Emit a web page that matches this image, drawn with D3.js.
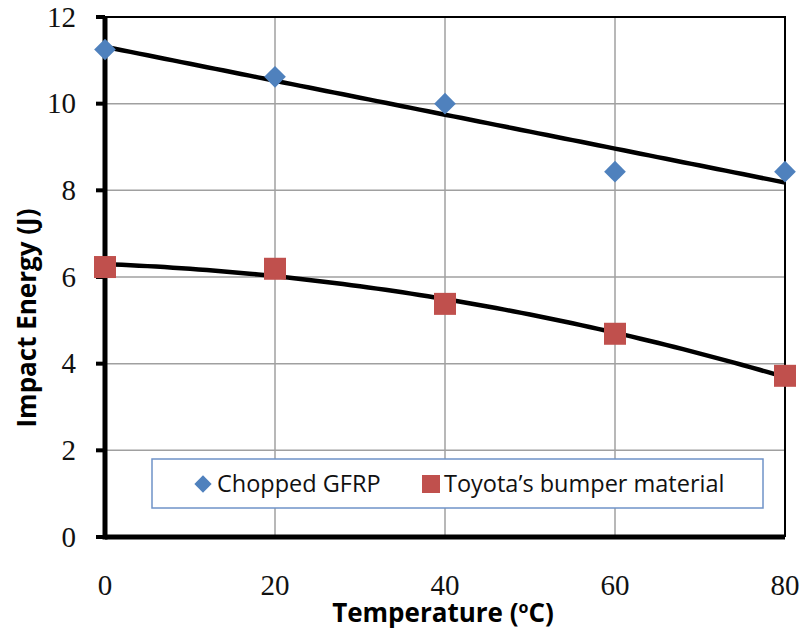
<!DOCTYPE html>
<html lang="en">
<head>
  <meta charset="UTF-8">
  <title>Impact Energy vs Temperature</title>
  <script src="https://cdn.jsdelivr.net/npm/d3@7"></script>
  <style>
    body { margin: 0; background: #fff; }
    .tick-label { font-family: "Liberation Serif", serif; font-size: 29px; fill: #111; }
    .axis-title { font-family: "Open Sans", "DejaVu Sans", sans-serif; font-weight: bold; font-size: 26px; fill: #000; }
    .legend-text { font-family: "Open Sans", "Liberation Sans", sans-serif; font-size: 23.5px; fill: #111; }
  </style>
</head>
<body>
  <div id="chart"></div>
  <script>
    // Data
    const temps = [0, 20, 40, 60, 80];
    const gfrp = [11.25, 10.62, 10.0, 8.43, 8.43];
    const toyota = [6.23, 6.19, 5.38, 4.69, 3.72];
    const yTicks = [0, 2, 4, 6, 8, 10, 12];
    const xTicks = [0, 20, 40, 60, 80];
    const seriesNames = ["Chopped GFRP", "Toyota\u2019s bumper material"];

    const W = 802, H = 630;
    const margin = { top: 17, right: 17, bottom: 93, left: 105 };
    const width = W - margin.left - margin.right;
    const height = H - margin.top - margin.bottom;

    const svg = d3.select("#chart").append("svg")
      .attr("width", W).attr("height", H);
    const g = svg.append("g")
      .attr("transform", `translate(${margin.left},${margin.top})`);

    const x = d3.scaleLinear().domain([0, 80]).range([0, width]);
    const y = d3.scaleLinear().domain([0, 12]).range([height, 0]);

    // gridlines
    g.selectAll(".hgrid").data(yTicks.slice(1)).enter().append("line")
      .attr("x1", 0).attr("x2", width)
      .attr("y1", d => y(d)).attr("y2", d => y(d))
      .attr("stroke", "#a0a0a0").attr("stroke-width", 1.5);
    g.selectAll(".vgrid").data(xTicks.slice(1)).enter().append("line")
      .attr("x1", d => x(d)).attr("x2", d => x(d))
      .attr("y1", 0).attr("y2", height)
      .attr("stroke", "#a0a0a0").attr("stroke-width", 1.5);

    // top and right border
    g.append("path")
      .attr("d", `M0,0H${width}V${height}`)
      .attr("fill", "none").attr("stroke", "#000").attr("stroke-width", 2);

    // fitted trend lines (linear and 2nd order polynomial)
    function linFit(xs, ys) {
      const mx = d3.mean(xs), my = d3.mean(ys);
      const b = d3.sum(xs, (v, i) => (v - mx) * (ys[i] - my)) / d3.sum(xs, v => (v - mx) ** 2);
      return t => my + b * (t - mx);
    }
    function quadFit(xs, ys) {
      const s = k => d3.sum(xs, v => v ** k);
      const t = k => d3.sum(xs, (v, i) => v ** k * ys[i]);
      const A = [[s(0), s(1), s(2), t(0)], [s(1), s(2), s(3), t(1)], [s(2), s(3), s(4), t(2)]];
      for (let i = 0; i < 3; i++) {
        for (let j = i + 1; j < 3; j++) {
          const f = A[j][i] / A[i][i];
          for (let k = i; k < 4; k++) A[j][k] -= f * A[i][k];
        }
      }
      const c = [0, 0, 0];
      for (let i = 2; i >= 0; i--) {
        let v = A[i][3];
        for (let k = i + 1; k < 3; k++) v -= A[i][k] * c[k];
        c[i] = v / A[i][i];
      }
      return v => c[0] + c[1] * v + c[2] * v * v;
    }
    const fitA = linFit(temps, gfrp);
    const fitB = quadFit(temps, toyota);
    const fine = d3.range(0, 80.01, 1);
    const line = f => d3.line().x(d => x(d)).y(d => y(f(d)));
    g.append("path").datum(fine).attr("d", line(fitA))
      .attr("fill", "none").attr("stroke", "#000").attr("stroke-width", 4.5);
    g.append("path").datum(fine).attr("d", line(fitB))
      .attr("fill", "none").attr("stroke", "#000").attr("stroke-width", 4.5);

    // axes (thick left and bottom)
    g.append("line").attr("x1", 0).attr("x2", width)
      .attr("y1", height).attr("y2", height)
      .attr("stroke", "#000").attr("stroke-width", 5);
    g.append("line").attr("x1", 0).attr("x2", 0)
      .attr("y1", -1).attr("y2", height + 2.5)
      .attr("stroke", "#000").attr("stroke-width", 5);
    g.selectAll(".ytick").data(yTicks).enter().append("line")
      .attr("x1", -9).attr("x2", 0)
      .attr("y1", d => y(d)).attr("y2", d => y(d))
      .attr("stroke", "#000").attr("stroke-width", 4);

    g.selectAll(".ylab").data(yTicks).enter().append("text")
      .attr("class", "tick-label")
      .attr("x", -29).attr("y", d => y(d))
      .attr("dy", "0.33em").attr("text-anchor", "end")
      .text(d => d);
    g.selectAll(".xlab").data(xTicks).enter().append("text")
      .attr("class", "tick-label")
      .attr("x", d => x(d)).attr("y", height + 48)
      .attr("dy", "0.33em").attr("text-anchor", "middle")
      .text(d => d);

    // markers
    const diamond = d3.symbol().type(d3.symbolDiamond2).size(300);
    g.selectAll(".ptA").data(temps).enter().append("path")
      .attr("transform", (d, i) => `translate(${x(d)},${y(gfrp[i])})`)
      .attr("d", diamond).attr("fill", "#4f81bd");
    g.selectAll(".ptB").data(temps).enter().append("rect")
      .attr("x", d => x(d) - 11).attr("y", (d, i) => y(toyota[i]) - 11)
      .attr("width", 22).attr("height", 22).attr("fill", "#c0504d");

    // legend
    const leg = svg.append("g");
    leg.append("rect").attr("x", 152).attr("y", 459).attr("width", 611).attr("height", 49)
      .attr("fill", "#fff").attr("stroke", "#6f93c8").attr("stroke-width", 1.5);
    leg.append("path").attr("transform", "translate(203,484)")
      .attr("d", d3.symbol().type(d3.symbolDiamond2).size(190)).attr("fill", "#4f81bd");
    leg.append("text").attr("class", "legend-text").attr("x", 217).attr("y", 484)
      .attr("dy", "0.35em").text(seriesNames[0]);
    leg.append("rect").attr("x", 422).attr("y", 475).attr("width", 18).attr("height", 18)
      .attr("fill", "#c0504d");
    leg.append("text").attr("class", "legend-text").attr("x", 444).attr("y", 484)
      .attr("dy", "0.35em").text(seriesNames[1]);

    // axis titles
    const xt = svg.append("text").attr("class", "axis-title")
      .attr("x", 443).attr("y", 622).attr("text-anchor", "middle");
    xt.append("tspan").text("Temperature (");
    xt.append("tspan").attr("font-size", "16px").attr("dy", "-9").text("o");
    xt.append("tspan").attr("dy", "9").text("C)");

    svg.append("text").attr("class", "axis-title")
      .attr("transform", "translate(36,318) rotate(-90)")
      .attr("text-anchor", "middle").text("Impact Energy (J)");
  </script>
</body>
</html>
